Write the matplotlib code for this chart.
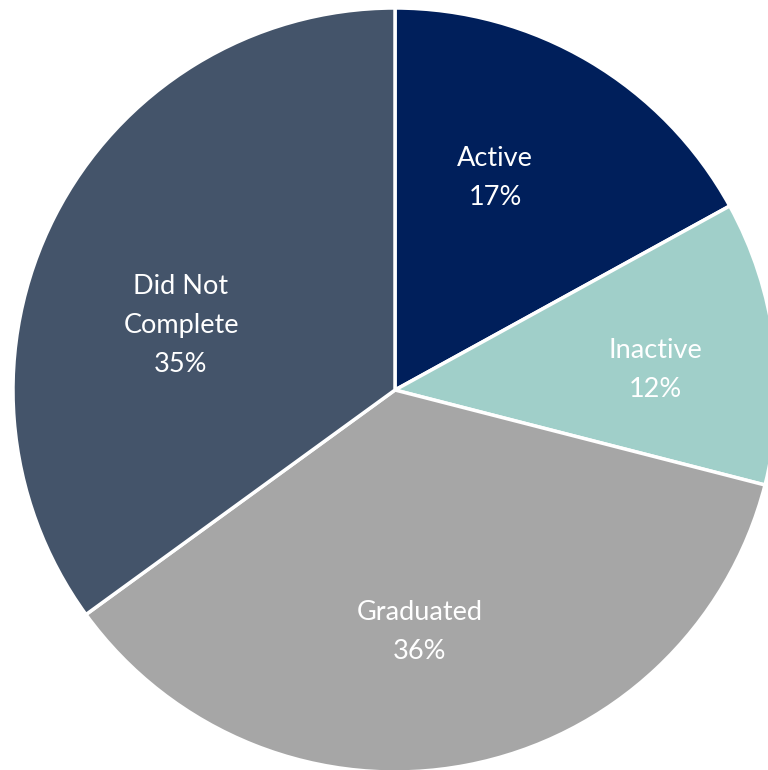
import matplotlib
matplotlib.use("Agg")
import matplotlib.pyplot as plt

categories = ["Active", "Inactive", "Graduated", "Did Not\nComplete"]
values = [17, 12, 36, 35]
colors = ["#001F5B", "#A0CFC9", "#A6A6A6", "#44546A"]
pct_labels = ["17%", "12%", "36%", "35%"]

plt.rcParams['font.family'] = ['Lato', 'DejaVu Sans']

W, H = 768, 770
fig = plt.figure(figsize=(W / 100, H / 100), dpi=100)
ax = fig.add_axes([0, 0, 1, 1])

cx, cy, R = 395, 390, 382
wedges, _ = ax.pie(values, colors=colors, startangle=90, counterclock=False,
                   radius=1.0, wedgeprops=dict(edgecolor="white", linewidth=2.5))

# label positions (pixel layout relative to centre)
label_px = [(495, 178), (655, 370), (420, 632), (181, 326)]
for cat, pct, (px, py) in zip(categories, pct_labels, label_px):
    x = (px - cx) / R
    y = (cy - py) / R
    ax.text(x, y, f"{cat}\n{pct}", ha="center", va="center", color="white",
            fontsize=19.5, linespacing=1.7)

ax.set_xlim(-cx / R, (W - cx) / R)
ax.set_ylim(-(H - cy) / R, cy / R)
ax.set_aspect("auto")
ax.axis("off")

fig.savefig("out.png", dpi=100, facecolor="white")
